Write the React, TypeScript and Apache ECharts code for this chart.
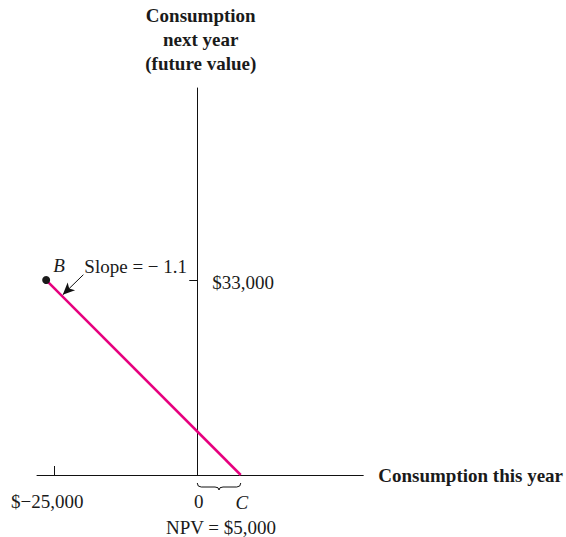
import React, { useEffect, useRef } from "react";
import * as echarts from "echarts";

// Values read from the (schematic) picture
const xTickValues = [-25000, 0];
const xTickLabels = ["$\u221225,000", "0"];
const yTickValues = [33000];
const yTickLabels = ["$33,000"];
const pointB = [-26400, 33000];
const pointC = [7600, 0];
const slopeText = "Slope = \u2212 1.1";
const npvText = "NPV = $5,000";
const xName = "Consumption this year";
const yName = "Consumption\nnext year\n(future value)";
// annotation anchors (data units)
const arrowTail = [-19900, 33900];
const arrowHead = [-23500, 30500];

const FONT = '"Liberation Serif", "Times New Roman", serif';
const FS = 19;
const INK = "#1a1a1a";

export default function App() {
  const ref = useRef<HTMLDivElement>(null);
  useEffect(() => {
    if (!ref.current) return;
    const chart = echarts.init(ref.current, null, { renderer: "svg" });
    const option: any = {
      animation: false,
      backgroundColor: "#ffffff",
      textStyle: { fontFamily: FONT },
      grid: { left: 37, top: 88, width: 328, height: 387, containLabel: false },
      xAxis: {
        type: "value",
        min: -28000,
        max: 29000,
        splitLine: { show: false },
        axisLine: { onZero: true, lineStyle: { color: "#111", width: 1 } },
        axisTick: { show: true, customValues: [xTickValues[0]], inside: true, length: 9, lineStyle: { color: "#111" } },
        axisLabel: {
          show: true,
          customValues: xTickValues,
          margin: 17,
          fontFamily: FONT,
          fontSize: FS,
          color: INK,
          formatter: (v: number) => {
            const i = xTickValues.indexOf(v);
            return i === 0 ? "{a|" + xTickLabels[0] + "}" : "{b|" + xTickLabels[i] + "}";
          },
          rich: {
            a: { fontFamily: FONT, fontSize: FS, color: INK, padding: [0, 14, 0, 0] },
            b: { fontFamily: FONT, fontSize: FS, color: INK, padding: [0, 0, 0, 3] },
          },
        },
        name: xName,
        nameLocation: "end",
        nameGap: 15,
        nameTextStyle: { fontFamily: FONT, fontSize: FS, fontWeight: "bold", color: INK },
      },
      yAxis: {
        type: "value",
        min: 0,
        max: 65500,
        splitLine: { show: false },
        axisLine: { onZero: true, lineStyle: { color: "#111", width: 1 } },
        axisTick: { show: true, customValues: yTickValues, inside: false, length: 8, lineStyle: { color: "#111" } },
        axisLabel: { show: false },
        name: yName,
        nameLocation: "end",
        nameGap: 13,
        nameTextStyle: {
          fontFamily: FONT,
          fontSize: FS,
          fontWeight: "bold",
          color: INK,
          lineHeight: 24,
          align: "center",
          padding: [0, 0, 0, 7],
        },
      },
      series: [
        {
          type: "line",
          data: [pointB, pointC],
          showSymbol: false,
          lineStyle: { color: "#e6007e", width: 2.5 },
          z: 3,
          markLine: {
            silent: true,
            symbol: ["none", "arrow"],
            symbolSize: [8, 12],
            label: { show: false },
            lineStyle: { color: "#111", width: 1, type: "solid" },
            data: [[{ coord: arrowTail }, { coord: arrowHead }]],
          },
        },
        {
          type: "scatter",
          data: [pointB],
          symbolSize: 8,
          itemStyle: { color: INK, opacity: 1 },
          z: 4,
          label: {
            show: true,
            position: "inside",
            offset: [13, -15],
            formatter: "B",
            fontFamily: FONT,
            fontSize: FS,
            fontStyle: "italic",
            color: INK,
          },
        },
        {
          type: "scatter",
          data: [arrowTail],
          symbolSize: 0,
          itemStyle: { opacity: 1 },
          label: {
            show: true,
            position: "right",
            distance: 1,
            offset: [0, -8],
            formatter: slopeText,
            fontFamily: FONT,
            fontSize: FS,
            color: INK,
          },
        },
        {
          type: "scatter",
          data: yTickValues.map((v) => [0, v]),
          symbolSize: 0,
          itemStyle: { opacity: 1 },
          label: {
            show: true,
            position: "right",
            distance: 15,
            offset: [0, 2],
            formatter: (p: any) => yTickLabels[p.dataIndex],
            fontFamily: FONT,
            fontSize: FS,
            color: INK,
          },
        },
        {
          type: "scatter",
          data: [pointC],
          symbolSize: 0,
          itemStyle: { opacity: 1 },
          label: {
            show: true,
            position: "inside",
            offset: [1, 27],
            formatter: "C",
            fontFamily: FONT,
            fontSize: FS,
            fontStyle: "italic",
            color: INK,
          },
        },
        {
          type: "custom",
          clip: false,
          data: [[0, 0, pointC[0]]],
          encode: { x: [0, 2], y: 1 },
          renderItem: (params: any, api: any) => {
            const p0 = api.coord([api.value(0), api.value(1)]);
            const p1 = api.coord([api.value(2), api.value(1)]);
            const x0 = p0[0];
            const x1 = p1[0];
            const y = p0[1];
            const xm = (x0 + x1) / 2;
            const yt = y + 8;
            const yf = y + 12;
            const yd = y + 15;
            const d =
              `M${x0},${yt} Q${x0},${yf} ${x0 + 4},${yf} L${xm - 4},${yf} Q${xm},${yf} ${xm},${yd} ` +
              `Q${xm},${yf} ${xm + 4},${yf} L${x1 - 4},${yf} Q${x1},${yf} ${x1},${yt}`;
            return {
              type: "group",
              children: [
                {
                  type: "path",
                  shape: { pathData: d },
                  style: { fill: "none", stroke: "#111", lineWidth: 1 },
                },
                {
                  type: "text",
                  x: xm + 2,
                  y: y + 52,
                  style: {
                    text: npvText,
                    fontFamily: FONT,
                    fontSize: FS,
                    fill: INK,
                    align: "center",
                    verticalAlign: "middle",
                  },
                },
              ],
            };
          },
        },
      ],
    };
    chart.setOption(option);
    return () => chart.dispose();
  }, []);
  return (
    <div
      ref={ref}
      style={{ position: "absolute", left: 0, top: 0, width: 566, height: 537 }}
    />
  );
}
